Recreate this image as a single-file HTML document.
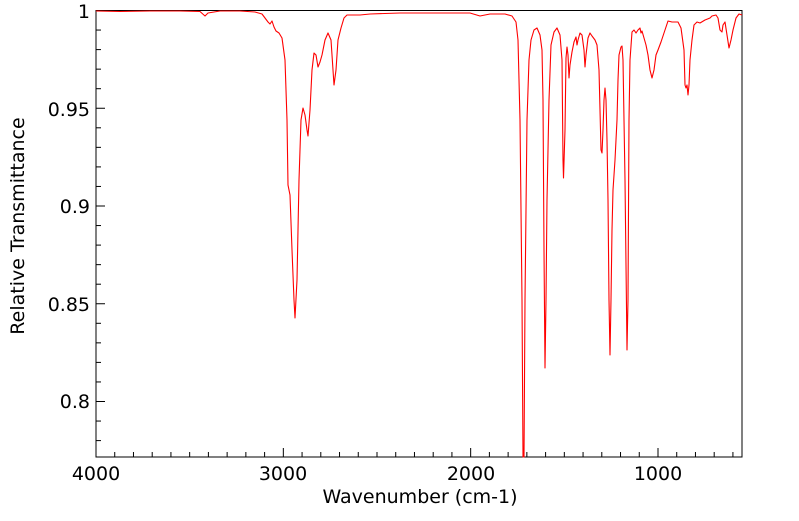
<!DOCTYPE html>
<html><head><meta charset="utf-8"><style>
html,body{margin:0;padding:0;background:#fff;}
svg text{font-family:"DejaVu Sans","Liberation Sans",sans-serif;font-size:19px;fill:#000;}
</style></head><body>
<svg width="799" height="516" viewBox="0 0 799 516" xmlns="http://www.w3.org/2000/svg">
<rect x="96" y="10.5" width="646" height="446.5" fill="none" stroke="#000" stroke-width="1"/>
<g stroke="#000" stroke-width="1" id="ticks"></g>
<polyline fill="none" stroke="#f00" stroke-width="1.1" stroke-linejoin="round" points="96,11 120,11.5 150,11 180,11 200,11.5 205,16 208,13 220,11 240,11 255,12 262,14 265,18 268,22 270,24 272,21 274,27 276,31 279,33 282,38 285,60 287,120 288,185 290,195 292,250 294,300 295,318 297,280 299,180 301,120 303,108 305,115 307,130 308,136 310,110 312,70 314,53 316,55 318,67 320,62 322,55 325,40 328,33 331,40 333,70 334,85 336,70 338,40 341,28 344,18 347,15 360,15 370,14 400,13 470,13 480,16 490,14 505,14 512,16 516,22 518,40 520,120 522,300 523,457 524,457 525,300 527,120 529,60 531,40 534,30 537,28 540,35 542,50 543,100 544,250 545,368 546,300 547,200 548,150 549,100 551,45 554,32 557,28 560,35 562,60 563,160 563.5,178 565,130 566,58 567,47 568,55 569,78 570,65 572,52 574,42 576,37 577,45 578,40 580,33 582,35 584,50 585,67 586,55 588,38 590,33 592,36 595,40 597,45 599,70 600,110 601,150 602,153 603,130 604,100 605,88 606,100 607,140 608,200 609,300 610,355 611,300 612,230 613,190 615,160 617,120 618,80 619,55 621,47 622,46 623,60 625,180 627,350 628,300 629,120 630,60 632,32 634,30 636,33 638,30 640,28 641,33 642,31 644,38 646,45 648,55 650,70 652,78 654,70 656,55 658,50 661,42 665,30 668,21 672,22 678,22 681,28 684,50 685,85 686,88 687,85 688,95 689,85 690,60 692,40 694,25 697,22 700,23 705,20 710,18 712,16 716,15 718,18 720,30 722,32 723,25 725,22 727,35 729,48 731,40 733,30 736,18 739,14 742,15"/>
<g text-anchor="end">
<text x="90" y="18">1</text>
<text x="90" y="116">0.95</text>
<text x="90" y="213">0.9</text>
<text x="90" y="311">0.85</text>
<text x="90" y="408">0.8</text>
</g>
<g text-anchor="middle">
<text x="96" y="480">4000</text>
<text x="283" y="480">3000</text>
<text x="471" y="480">2000</text>
<text x="658" y="480">1000</text>
<text x="420" y="503">Wavenumber (cm-1)</text>
<text transform="translate(24,226) rotate(-90)">Relative Transmittance</text>
</g>
</svg>
<script>
var g=document.getElementById('ticks'),s='';
for(var w=4000;w>=550;w-=100){var x=96+(4000-w)*0.18733;var L=(w%1000==0)?9:5;s+='<line x1="'+x+'" y1="457" x2="'+x+'" y2="'+(457-L)+'"/>';}
for(var i=0;i<=22;i++){var y=10.5+i*19.55;if(y>457)break;var L=(i%5==0)?9:5;s+='<line x1="96" y1="'+y+'" x2="'+(96+L)+'" y2="'+y+'"/>';}
g.innerHTML=s;
</script>
</body></html>
